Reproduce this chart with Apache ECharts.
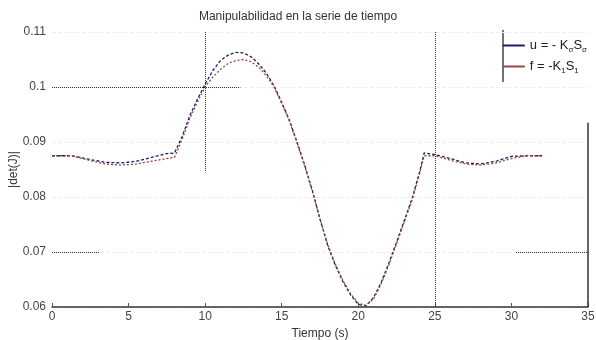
<!DOCTYPE html>
<html><head><meta charset="utf-8">
<script src="https://cdn.jsdelivr.net/npm/echarts@6/dist/echarts.min.js"></script>
<style>html,body{margin:0;padding:0;background:#fff}#c{width:596px;height:340px}</style>
</head><body><div id="c"></div>
<script>
var titleText = 'Manipulabilidad en la serie de tiempo';
var xName = 'Tiempo (s)';
var yName = '|det(J)|';
var seriesNames = ['u = - KσSσ', 'f = -K1S1'];
var times = [0, 1.3, 2.5, 3.5, 4.5, 5.5, 6.5, 7.5, 8, 8.5, 9, 9.5, 10, 10.5, 11, 11.5, 12, 12.5, 13, 13.5, 14, 14.5, 15, 15.5, 16, 16.5, 17, 17.5, 18, 18.5, 19, 19.5, 20, 20.5, 21, 21.5, 22, 22.5, 23, 23.5, 24, 24.3, 25, 26, 27, 28, 29, 30, 31, 32];
var blueVals = [0.0875, 0.0875, 0.0868, 0.0863, 0.0862, 0.0865, 0.0872, 0.0879, 0.0880, 0.0910, 0.0948, 0.0978, 0.1005, 0.1030, 0.1048, 0.1058, 0.1063, 0.1062, 0.1055, 0.1042, 0.1025, 0.1002, 0.0972, 0.0940, 0.0900, 0.0858, 0.0812, 0.0760, 0.0712, 0.0676, 0.0646, 0.0622, 0.0605, 0.0602, 0.0617, 0.0645, 0.0680, 0.0718, 0.0757, 0.0796, 0.0845, 0.0880, 0.0877, 0.0870, 0.0862, 0.0860, 0.0865, 0.0874, 0.0875, 0.0875];
var redVals = [0.0875, 0.0875, 0.0866, 0.0860, 0.0858, 0.0860, 0.0865, 0.0870, 0.0872, 0.0905, 0.0943, 0.0973, 0.1000, 0.1018, 0.1032, 0.1043, 0.1048, 0.1050, 0.1046, 0.1036, 0.1020, 0.1000, 0.0970, 0.0938, 0.0898, 0.0856, 0.0810, 0.0760, 0.0714, 0.0678, 0.0648, 0.0624, 0.0607, 0.0603, 0.0615, 0.0642, 0.0677, 0.0715, 0.0754, 0.0793, 0.0842, 0.0875, 0.0875, 0.0867, 0.0860, 0.0858, 0.0862, 0.0870, 0.0875, 0.0875];
var xTicks = [0, 5, 10, 15, 20, 25, 30, 35];
var yTicks = [0.06, 0.07, 0.08, 0.09, 0.1, 0.11];

function pairs(v){ return times.map(function(t,i){ return [t, v[i]]; }); }
var chart = echarts.init(document.getElementById('c'));
var dotted = {type:'dotted', color:'#333', width:1};
chart.setOption({
  animation:false,
  title:{text:titleText, left:'center', top:6, textStyle:{fontFamily:'Liberation Sans', fontSize:12, fontWeight:'normal', color:'#333'}},
  grid:{left:52, right:8, top:32, bottom:33, outerBoundsMode:'none', containLabel:false},
  legend:{
    right:4, top:34, orient:'vertical', itemGap:6, itemWidth:22, itemHeight:2, icon:'rect',
    data: seriesNames,
    formatter:function(n){
      return n === seriesNames[0] ? '{n|u = - K}{s|σ}{n|S}{s|σ}' : '{n|f = -K}{s|1}{n|S}{s|1}';
    },
    textStyle:{fontFamily:'Liberation Sans', color:'#222', rich:{
      n:{fontSize:13, fontFamily:'Liberation Sans', color:'#222'},
      s:{fontSize:8, fontFamily:'Liberation Sans', color:'#222', padding:[9,0,0,0]}
    }}
  },
  graphic:[{type:'line', shape:{x1:503, y1:30, x2:503, y2:82}, style:{stroke:'#444', lineWidth:1.5}}],
  xAxis:{type:'value', min:0, max:35, interval:5, name:xName, nameLocation:'middle', nameGap:19,
    nameTextStyle:{fontFamily:'Liberation Sans', fontSize:12, color:'#333'},
    axisLine:{show:true, onZero:false, lineStyle:{color:'#333', width:1.5}},
    axisTick:{show:true, inside:true, length:4, lineStyle:{color:'#555'}},
    axisLabel:{fontFamily:'Liberation Sans', fontSize:12, color:'#444', margin:4},
    splitLine:{show:false}},
  yAxis:{type:'value', min:0.06, max:0.11, interval:0.01, name:yName, nameLocation:'middle', nameGap:32, nameMoveOverlap:false,
    nameTextStyle:{fontFamily:'Liberation Sans', fontSize:12, color:'#333'},
    axisLine:{show:false}, axisTick:{show:false},
    axisLabel:{fontFamily:'Liberation Sans', fontSize:12, color:'#444', margin:6,
      formatter:function(v){ return String(+v.toFixed(2)); }},
    splitLine:{show:true, lineStyle:{color:'#eeeeee', type:'dashed'}}},
  series:[
    {name:seriesNames[0], type:'line', data:pairs(blueVals), showSymbol:false, color:'#1c1c6a',
      lineStyle:{width:1.3, type:[3,2], color:'#1c1c6a'},
      markLine:{silent:true, symbol:'none', label:{show:false}, lineStyle:dotted, data:[
        [{coord:[10,0.11]},{coord:[10,0.0845]}],
        [{coord:[25,0.11]},{coord:[25,0.06]}],
        [{coord:[0,0.1]},{coord:[12.3,0.1]}],
        [{coord:[0,0.07]},{coord:[3.1,0.07]}],
        [{coord:[30.3,0.07]},{coord:[35,0.07]}],
        [{coord:[35,0.0935],lineStyle:{type:'solid',width:1.5,color:'#333'}},{coord:[35,0.06]}]
      ]}},
    {name:seriesNames[1], type:'line', data:pairs(redVals), showSymbol:false, color:'#9a4545',
      lineStyle:{width:1.3, type:[2,2], color:'#9a4545'}}
  ]
});
</script></body></html>
